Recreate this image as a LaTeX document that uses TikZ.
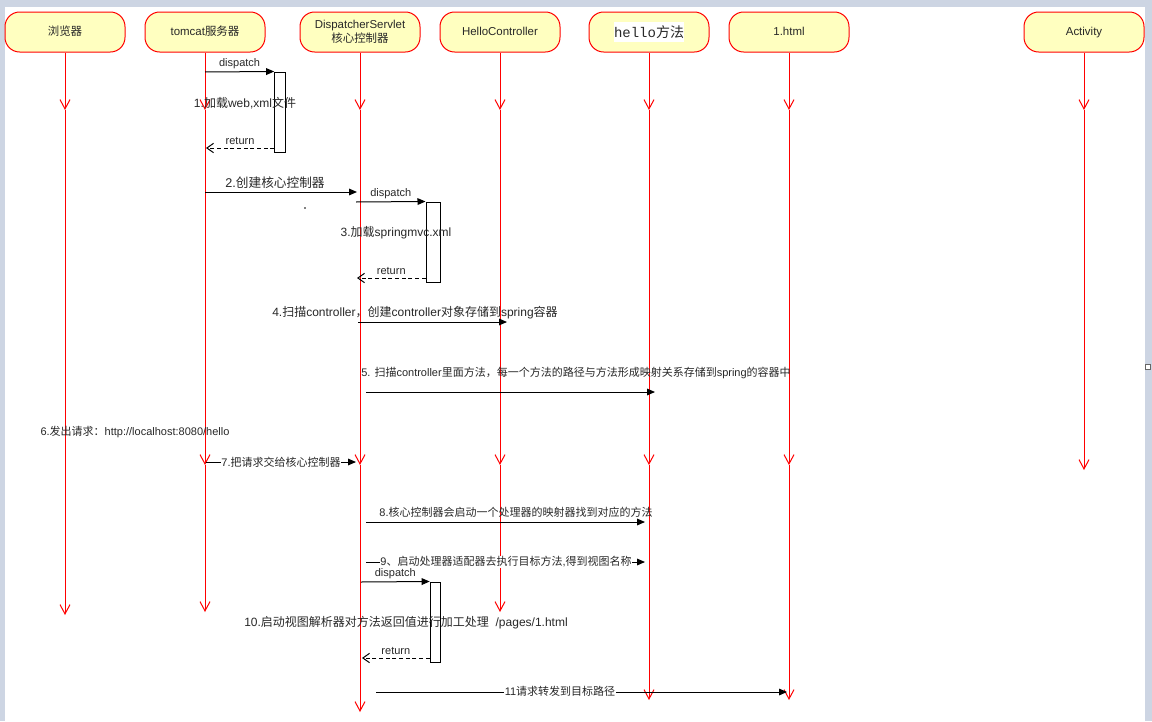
\documentclass[tikz,border=0pt]{standalone}
\usepackage{fontspec}
\setmainfont{Liberation Sans}
\newfontfamily\cjk{Noto Sans CJK SC}
\newfontfamily\monofont{Liberation Mono}
\usetikzlibrary{arrows.meta}
\XeTeXinterchartokenstate=1
\newXeTeXintercharclass\CJKcls
\count255="4E00
\loop\XeTeXcharclass\count255=\CJKcls\advance\count255 by 1 \ifnum\count255<"A000 \repeat
\count255="3000
\loop\XeTeXcharclass\count255=\CJKcls\advance\count255 by 1 \ifnum\count255<"3040 \repeat
\count255="FF00
\loop\XeTeXcharclass\count255=\CJKcls\advance\count255 by 1 \ifnum\count255<"FFF0 \repeat
\XeTeXinterchartoks 0 \CJKcls = {\cjk}
\XeTeXinterchartoks 4095 \CJKcls = {\cjk}
\XeTeXinterchartoks \CJKcls 0 = {\normalfont}
\XeTeXinterchartoks \CJKcls 4095 = {\normalfont}
\definecolor{bgc}{RGB}{205,213,227}
\definecolor{boxfill}{RGB}{255,255,192}
\definecolor{txt}{RGB}{40,40,40}
\tikzset{
  actor/.style={draw=red, fill=boxfill, rounded corners=11pt, line width=0.75pt,
    minimum width=90pt, minimum height=30pt, inner sep=0pt, align=center,
    text=txt, font=\fontsize{8.6}{10.2}\selectfont},
  oneline/.style={text height=6.4pt, text depth=1.8pt},
  life/.style={draw=red, line width=0.75pt, -{Straight Barb[length=7pt,width=7.5pt]}},
  msg/.style={draw=black, line width=0.75pt, -{Triangle[length=6pt,width=5pt]}},
  ret/.style={draw=black, line width=0.75pt, dashed, dash pattern=on 3pt off 2pt,
    -{Straight Barb[length=5pt,width=7pt]}},
  actbox/.style={draw=black, fill=white, line width=0.75pt, inner sep=0pt,
    minimum height=60pt},
  lbl/.style={text=txt, inner sep=1pt, font=\fontsize{9}{11}\selectfont},
  mlbl/.style={text=txt, inner sep=1pt, font=\fontsize{8.25}{10}\selectfont},
  blbl/.style={text=txt, inner sep=1pt, font=\fontsize{9.5}{11.5}\selectfont},
  slbl/.style={text=txt, inner sep=1pt, font=\fontsize{8.25}{10}\selectfont},
  wlbl/.style={mlbl, fill=white, inner sep=0.5pt},
}
\begin{document}
\begin{tikzpicture}[x=0.75pt,y=-0.75pt]
\useasboundingbox (0,0) rectangle (1152,721);
\fill[bgc] (0,0) rectangle (1152,721);
\fill[white] (5,7) rectangle (1145,721);
\draw[black!60, fill=white, line width=0.6pt] (1145,364) rectangle (1150,369);

% participants
\node[actor, oneline] (browser) at (65,32) {浏览器};
\node[actor, oneline] (tomcat) at (205,32) {tomcat服务器};
\node[actor] (disp) at (360,32) {DispatcherServlet\\核心控制器};
\node[actor, oneline] (hc) at (500,32) {HelloController};
\node[actor] (hm) at (649,32) {\fontsize{10.5}{12}\selectfont\hbox{\colorbox{white}{\hbox to 0pt{}\kern-3pt\monofont hello方法\kern-3pt}}};
\node[actor, oneline] (html) at (789,32) {1.html};
\node[actor, oneline] (act) at (1084,32) {Activity};

% lifelines
\foreach \n/\e in {browser/615}{
  \draw[life] (\n.south) -- (\n.south |- 0,110);
  \draw[life] (\n.south |- 0,110) -- (\n.south |- 0,\e);
}
\foreach \n/\m in {tomcat/465, disp/465, hc/465, hm/465, html/465, act/470}{
  \draw[life] (\n.south) -- (\n.south |- 0,110);
  \draw[life] (\n.south |- 0,110) -- (\n.south |- 0,\m);
}
\foreach \n/\m/\e in {tomcat/465/612, disp/465/712, hc/465/612, hm/465/700, html/465/700}{
  \draw[life] (\n.south |- 0,\m) -- (\n.south |- 0,\e);
}

% activation boxes
\node[actbox, minimum width=8pt] (a1) at (280,112) {};
\node[actbox, minimum width=10.5pt] (a2) at (433,242) {};
\node[actbox, minimum width=8pt] (a3) at (435.5,622) {};

% message end points
\coordinate (t72) at (205,72);
\coordinate (t148) at (206,148);
\coordinate (t192) at (205,192);
\coordinate (d192) at (357,192);
\coordinate (d202) at (356,202);
\coordinate (d278) at (357,278);
\coordinate (d322) at (358,322);
\coordinate (h322) at (507,322);
\coordinate (s392) at (366,392);
\coordinate (e392) at (655,392);
\coordinate (t462) at (206,462);
\coordinate (d462) at (356,462);
\coordinate (s522) at (366,522);
\coordinate (e522) at (645,522);
\coordinate (s562) at (366,562);
\coordinate (e562) at (645,562);
\coordinate (d582) at (361,582);
\coordinate (d658) at (362,658);
\coordinate (s692) at (376,692);
\coordinate (e692) at (787,692);

% messages
\draw[msg] (t72) -- (a1.north west) node[slbl, midway, above=1pt] {dispatch};
\draw[ret] (a1.west |- 0,148) -- (t148) node[slbl, midway, above=1pt] {return};
\node[lbl] (l1) at (245,103) {1.加载web,xml文件};

\draw[msg] (t192) -- (d192);
\node[blbl] (l2) at (275,183) {2.创建核心控制器};
\fill[black] (305,208) circle (0.9);

\draw[msg] (d202) -- (a2.north west) node[slbl, midway, above=1pt] {dispatch};
\draw[ret] (a2.west |- 0,278) -- (d278) node[slbl, midway, above=1pt] {return};
\node[lbl] (l3) at (396,233) {3.加载springmvc.xml};

\draw[msg] (d322) -- (h322);
\node[lbl] (l4) at (415,313) {4.扫描controller，创建controller对象存储到spring容器};

\draw[msg] (s392) -- (e392);
\node[mlbl] (l5) at (576,373) {5. 扫描controller里面方法，每一个方法的路径与方法形成映射关系存储到spring的容器中};

\node[mlbl] (l6) at (135,432) {6.发出请求：http://localhost:8080/hello};

\draw[msg] (t462) -- (d462);
\node[wlbl] (l7) at (281,462) {7.把请求交给核心控制器};

\draw[msg] (s522) -- (e522);
\node[mlbl] (l8) at (516,512) {8.核心控制器会启动一个处理器的映射器找到对应的方法};

\draw[msg] (s562) -- (e562);
\node[wlbl] (l9) at (506,562) {9、启动处理器适配器去执行目标方法,得到视图名称};

\draw[msg] (d582) -- (a3.north west) node[slbl, midway, above=1pt] {dispatch};
\draw[ret] (a3.west |- 0,658) -- (d658) node[slbl, midway, above=1pt] {return};
\node[lbl] (l10) at (406,623) {10.启动视图解析器对方法返回值进行加工处理\ \ /pages/1.html};

\draw[msg] (s692) -- (e692);
\node[wlbl] (l11) at (560,691) {11请求转发到目标路径};
\end{tikzpicture}
\end{document}
